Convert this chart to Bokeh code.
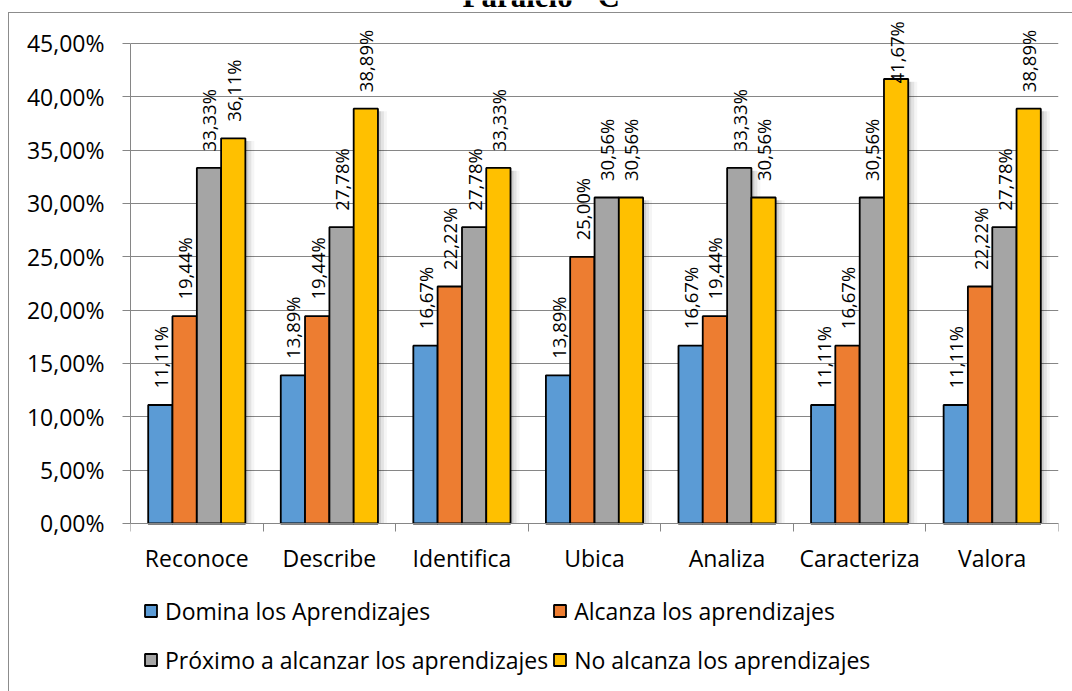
import numpy as np
from bokeh.plotting import figure
from bokeh.models import (Range1d, FixedTicker, Legend, LegendItem, ColumnDataSource,
                          InlineStyleSheet)
from bokeh.core.properties import value
from bokeh.embed import file_html
from bokeh.resources import INLINE

# ---- data ----
title_text = "Paralelo \"C\""
categories = ["Reconoce", "Describe", "Identifica", "Ubica", "Analiza", "Caracteriza", "Valora"]
domina = [11.11, 13.89, 16.67, 13.89, 16.67, 11.11, 11.11]
alcanza = [19.44, 19.44, 22.22, 25.00, 19.44, 16.67, 22.22]
proximo = [33.33, 27.78, 27.78, 30.56, 33.33, 30.56, 27.78]
no_alcanza = [36.11, 38.89, 33.33, 30.56, 30.56, 41.67, 38.89]
series_names = ["Domina los Aprendizajes", "Alcanza los aprendizajes",
                "Próximo a alcanzar los aprendizajes", "No alcanza los aprendizajes"]
y_ticks = [0, 5, 10, 15, 20, 25, 30, 35, 40, 45]
y_tick_labels = ["0,00%", "5,00%", "10,00%", "15,00%", "20,00%", "25,00%",
                 "30,00%", "35,00%", "40,00%", "45,00%"]

colors = ["#5B9BD5", "#ED7D31", "#A5A5A5", "#FFC000"]
series = [domina, alcanza, proximo, no_alcanza]

FONT = "Open Sans"
GRID = "#868686"

border_css = InlineStyleSheet(css="""
:host { position: relative; }
:host::after {
  content: '';
  position: absolute;
  left: 8px; top: 12px; right: -20px; bottom: -20px;
  border-left: 1.5px solid #8c8c8c;
  border-top: 1.5px solid #8c8c8c;
  pointer-events: none;
}
""")

p = figure(width=1072, height=691, output_backend="svg", toolbar_location=None,
           x_range=Range1d(0, 7), y_range=Range1d(-15.75, 49.03),
           min_border_left=130, min_border_right=14, min_border_top=0, min_border_bottom=0,
           stylesheets=[border_css])
p.outline_line_color = None
p.background_fill_color = "white"
p.border_fill_color = "white"

# axes
p.xgrid.visible = False
p.ygrid.ticker = FixedTicker(ticks=y_ticks)
p.ygrid.grid_line_color = GRID
p.ygrid.grid_line_width = 1

yax = p.yaxis[0]
yax.ticker = FixedTicker(ticks=y_ticks)
yax.major_label_overrides = {t: l for t, l in zip(y_ticks, y_tick_labels)}
yax.bounds = (0, 45)
yax.axis_line_color = GRID
yax.major_tick_line_color = GRID
yax.major_tick_out = 8
yax.major_tick_in = 0
yax.minor_tick_line_color = None
yax.major_label_standoff = 18
yax.major_label_text_font = FONT
yax.major_label_text_font_size = "23px"
yax.major_label_text_color = "#000000"

xax = p.xaxis[0]
xax.fixed_location = 0
centers = [i + 0.5 for i in range(len(categories))]
xax.ticker = FixedTicker(ticks=centers, minor_ticks=list(range(len(categories) + 1)))
xax.major_label_overrides = {c: n for c, n in zip(centers, categories)}
xax.axis_line_color = GRID
xax.major_tick_line_color = None
xax.major_tick_out = 0
xax.major_tick_in = 0
xax.minor_tick_line_color = GRID
xax.minor_tick_out = 8
xax.minor_tick_in = 0
xax.major_label_standoff = 11
xax.major_label_text_font = FONT
xax.major_label_text_font_size = "23px"
xax.major_label_text_color = "#000000"

# title (mostly cut off at the top edge, as in the source page)
p.text(x=[2.504], y=[49.43], text=[title_text], text_align="left",
       text_baseline="alphabetic", text_font=value("Liberation Serif"),
       text_font_style="bold", text_font_size="31px", text_color="#000000")

# bars
bar_w = 0.183
offsets = [-0.275, -0.092, 0.092, 0.275]
px = 1.0 / 132.6

# soft shadows
for vals, off in zip(series, offsets):
    xs = [c + off for c in centers]
    for k, a in [(3, 0.10), (6, 0.07), (9, 0.04)]:
        p.vbar(x=[x + k * px for x in xs], top=[v - 0.25 for v in vals], bottom=0,
               width=bar_w, fill_color="black", fill_alpha=a, line_color=None)

renderers = []
for vals, off, col in zip(series, offsets, colors):
    xs = [c + off for c in centers]
    r = p.vbar(x=xs, top=vals, bottom=0, width=bar_w, fill_color=col,
               line_color="black", line_width=1.8)
    renderers.append(r)
    labels = [f"{v:.2f}".replace(".", ",") + "%" for v in vals]
    ly = [min(v + 1.55, 41.25) for v in vals]
    src = ColumnDataSource(dict(x=xs, y=ly, t=labels))
    p.text(x="x", y="y", text="t", source=src, angle=np.pi / 2,
           text_align="left", text_baseline="middle",
           text_font=value(FONT), text_font_size="18.5px", text_color="#000000")

# legend (row-major: Domina, Alcanza / Próximo, No alcanza)
items = [LegendItem(label=n, renderers=[r]) for n, r in zip(series_names, renderers)]
legend = Legend(items=items, location=(13, 9), orientation="horizontal", ncols=2,
                glyph_width=15, glyph_height=15, label_standoff=7, label_height=45,
                spacing=4, padding=0, margin=0, border_line_color=None,
                background_fill_alpha=0, label_text_font=FONT,
                label_text_font_size="23px", label_text_color="#000000")
p.add_layout(legend, "center")

open("out.html", "w").write(file_html(p, INLINE))
